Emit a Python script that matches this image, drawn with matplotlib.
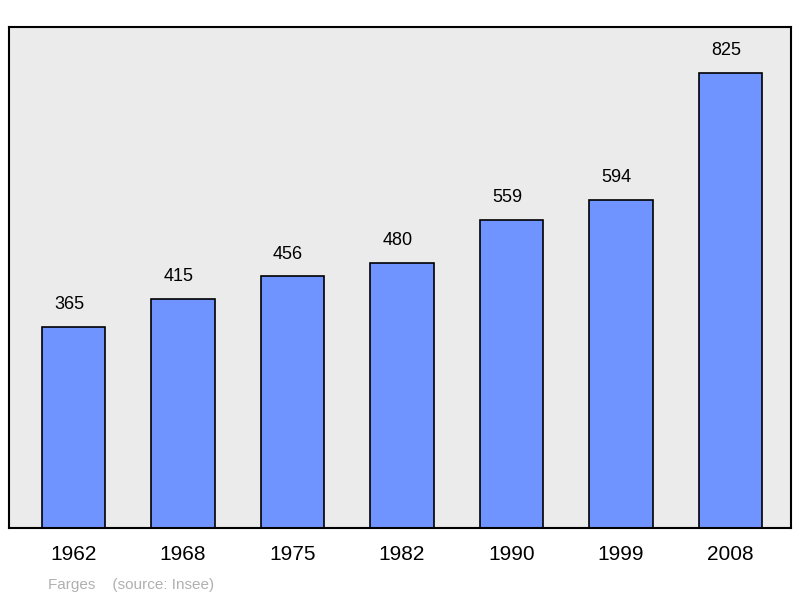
import matplotlib
matplotlib.use("Agg")
import matplotlib.pyplot as plt

years = ["1962", "1968", "1975", "1982", "1990", "1999", "2008"]
population = [365, 415, 456, 480, 559, 594, 825]

plt.rcParams['font.family'] = ['Liberation Sans', 'DejaVu Sans']
fig = plt.figure(figsize=(8, 5.98), dpi=100)
ax = fig.add_axes([9/800, 70/598, 782/800, 501/598])
ax.set_facecolor('#ebebeb')
x = list(range(len(years)))
ax.bar(x, population, width=0.58, color='#7094ff', edgecolor='black', linewidth=1.2)
for xi, v in zip(x, population):
    ax.text(xi - 0.04, v + 25, str(v), ha='center', va='bottom', fontsize=13)
ax.set_xlim(-0.589, 6.553)
ax.set_ylim(0, 908)
ax.set_yticks([])
ax.set_xticks(x)
ax.set_xticklabels(years, fontsize=15)
ax.tick_params(axis='x', length=0, pad=12)
for s in ax.spines.values():
    s.set_linewidth(1.5)
fig.text(48/800, 1 - 585/598, "Farges    (source: Insee)", color='#b0b0b0', fontsize=11, va='center')
fig.savefig('out.png', dpi=100)
